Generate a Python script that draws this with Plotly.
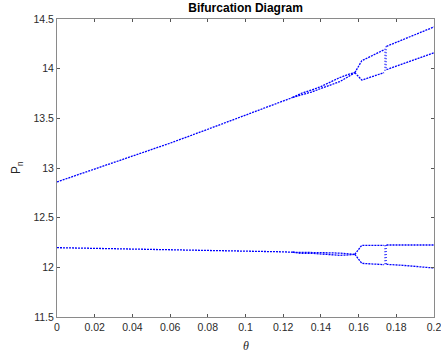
import plotly.graph_objects as go

# ---- data ----
# main (period-1) branch
theta_main = [0.0, 0.02, 0.04, 0.06, 0.08, 0.10, 0.12, 0.125]
upper_main = [12.86, 12.99, 13.12, 13.25, 13.39, 13.53, 13.67, 13.71]
lower_main = [12.198, 12.192, 12.185, 12.176, 12.170, 12.164, 12.156, 12.152]

# narrow bubble before the big split
theta_bub = [0.125, 0.130, 0.135, 0.140, 0.145, 0.150, 0.155, 0.158]
upper_bub_hi = [13.71, 13.755, 13.785, 13.82, 13.865, 13.91, 13.945, 13.96]
upper_bub_lo = [13.71, 13.735, 13.765, 13.80, 13.835, 13.87, 13.925, 13.96]
lower_bub_hi = [12.152, 12.152, 12.150, 12.147, 12.146, 12.143, 12.139, 12.131]
lower_bub_lo = [12.152, 12.140, 12.141, 12.136, 12.126, 12.121, 12.125, 12.131]

# period-2 window before the jump
theta_p2a = [0.158, 0.1617, 0.1735]
upper_p2a_hi = [13.96, 14.08, 14.19]
upper_p2a_lo = [13.96, 13.885, 13.96]
lower_p2a_hi = [12.131, 12.222, 12.222]
lower_p2a_lo = [12.131, 12.040, 12.027]

# jump region (scattered points)
theta_jump = [0.1740, 0.1740, 0.1746, 0.1746]
upper_jump = [14.20, 13.96, 14.225, 13.99]
lower_jump = [12.222, 12.030, 12.225, 12.030]

# period-2 after the jump
theta_p2b = [0.1748, 0.1835, 0.2]
upper_p2b_hi = [14.225, 14.29, 14.42]
upper_p2b_lo = [13.99, 14.05, 14.16]
lower_p2b_hi = [12.225, 12.225, 12.225]
lower_p2b_lo = [12.030, 12.020, 11.993]

x_ticks = [0, 0.02, 0.04, 0.06, 0.08, 0.10, 0.12, 0.14, 0.16, 0.18, 0.20]
x_tick_labels = ["0", "0.02", "0.04", "0.06", "0.08", "0.1", "0.12", "0.14", "0.16", "0.18", "0.2"]
y_ticks = [11.5, 12, 12.5, 13, 13.5, 14, 14.5]
y_tick_labels = ["11.5", "12", "12.5", "13", "13.5", "14", "14.5"]

BLUE = "#0000ff"
line_style = dict(color=BLUE, width=1.3, dash="2px,1px")
jump_style = dict(color=BLUE, width=1.2, dash="1px,2px")

fig = go.Figure()

def add(x, y, style=line_style):
    fig.add_trace(go.Scatter(x=x, y=y, mode="lines", line=style,
                             showlegend=False, hoverinfo="skip"))

add(theta_main, upper_main)
add(theta_main, lower_main)
add(theta_bub, upper_bub_hi)
add(theta_bub, upper_bub_lo)
add(theta_bub, lower_bub_hi)
add(theta_bub, lower_bub_lo)
add(theta_p2a, upper_p2a_hi)
add(theta_p2a, upper_p2a_lo)
add(theta_p2a, lower_p2a_hi)
add(theta_p2a, lower_p2a_lo)
for i in range(0, len(theta_jump), 2):
    add(theta_jump[i:i + 2], upper_jump[i:i + 2], jump_style)
    add(theta_jump[i:i + 2], lower_jump[i:i + 2], jump_style)
add(theta_p2b, upper_p2b_hi)
add(theta_p2b, upper_p2b_lo)
add(theta_p2b, lower_p2b_hi)
add(theta_p2b, lower_p2b_lo)

axis_common = dict(
    showgrid=False, zeroline=False, showline=True, linecolor="#8a8a8a",
    linewidth=1, mirror="ticks", ticks="inside", ticklen=3, tickcolor="#555555",
    ticklabeloverflow="allow", automargin=False,
    tickfont=dict(family="Liberation Sans, Arial", size=10.5, color="#2a2a2a"),
)

fig.update_layout(
    width=441, height=356,
    margin=dict(l=57, r=7, t=19, b=39, autoexpand=False),
    paper_bgcolor="white", plot_bgcolor="white",
    title=dict(text="<b>Bifurcation Diagram</b>", x=0.557, xanchor="center",
               y=1 - 8 / 356, yanchor="middle", yref="container",
               font=dict(family="Liberation Sans, Arial", size=12, color="#000000")),
    xaxis=dict(range=[0, 0.2], tickvals=x_ticks, ticktext=x_tick_labels, **axis_common),
    yaxis=dict(range=[11.5, 14.5], tickvals=y_ticks, ticktext=y_tick_labels, **axis_common),
    annotations=[
        dict(text="<i>θ</i>", x=0.5, xref="paper", y=0, yref="paper", yanchor="top",
             yshift=-20, showarrow=False,
             font=dict(family="Liberation Serif", size=12, color="#262626")),
        dict(text="P<sub>n</sub>", x=0, xref="paper", xanchor="center", xshift=-40,
             y=0.5, yref="paper", textangle=-90, showarrow=False,
             font=dict(family="Liberation Sans, Arial", size=12, color="#262626")),
    ],
)

fig.write_html("out.html")
